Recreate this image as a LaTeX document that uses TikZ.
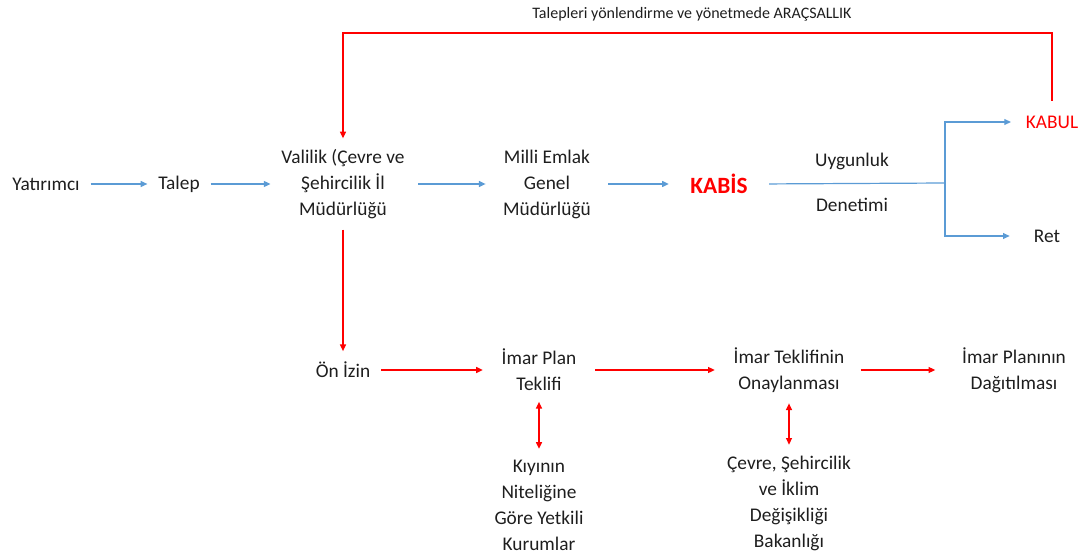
\documentclass[tikz,border=0pt]{standalone}
\usepackage{fontspec}
\setmainfont{Carlito}
\usetikzlibrary{arrows.meta}
\definecolor{okmavi}{RGB}{91,155,213}
\definecolor{okkirmizi}{RGB}{255,0,0}
\definecolor{yazi}{RGB}{30,30,30}
\tikzset{
  kutu/.style={align=center, inner sep=8pt, text=yazi, font=\fontsize{14.5}{19.5}\selectfont},
  mavi/.style={draw=okmavi, line width=0.9pt, -{Triangle[length=5pt,width=4.5pt]}},
  kirmizi/.style={draw=okkirmizi, line width=0.9pt, -{Triangle[length=5pt,width=4.5pt]}},
  ikiyonlu/.style={draw=okkirmizi, line width=0.9pt, {Triangle[length=5pt,width=4.5pt]}-{Triangle[length=5pt,width=4.5pt]}}
}
\begin{document}
\begin{tikzpicture}[x=0.75pt,y=-0.75pt]
                \useasboundingbox (0,0) rectangle (1086,556);
                \node[kutu] (yatirimci) at (46,184) {Yatırımcı};
                \node[kutu] (talep) at (179,184) {Talep};
                \node[kutu] (valilik) at (343,184) {Valilik (Çevre ve\\Şehircilik İl\\Müdürlüğü};
                \node[kutu] (emlak) at (547,184) {Milli Emlak\\Genel\\Müdürlüğü};
                \node[kutu, text=okkirmizi, font=\fontsize{17.5}{20}\selectfont\bfseries] (kabis) at (719,184) {KABİS};
                \node[kutu, text=okkirmizi, inner sep=11pt] (kabul) at (1052,122) {KABUL};
                \node[kutu] (ret) at (1047,236) {Ret};
                \node[kutu] (uygun) at (852,161) {Uygunluk};
                \node[kutu] (denetim) at (852,205) {Denetimi};
                \node[kutu, font=\fontsize{12}{14}\selectfont] (baslik) at (692,14) {Talepleri yönlendirme ve yönetmede ARAÇSALLIK};
                \coordinate (kol) at (945,183);
                \coordinate (ust) at (700,33);
                \node[kutu] (onizin) at (343,370) {Ön İzin};
                \node[kutu] (plan) at (539,370) {İmar Plan\\Teklifi};
                \node[kutu] (onay) at (789,370) {İmar Teklifinin\\Onaylanması};
                \node[kutu] (dagitim) at (1014,370) {İmar Planının\\Dağıtılması};
                \node[kutu] (kiyi) at (539,505) {Kıyının\\Niteliğine\\Göre Yetkili\\Kurumlar};
                \node[kutu] (bakanlik) at (789,503) {Çevre, Şehircilik\\ve İklim\\Değişikliği\\Bakanlığı};
                \draw[mavi] (yatirimci.east) -- (talep.west);
                \draw[mavi] (talep.east) -- (valilik.west);
                \draw[mavi, shorten <=2pt, shorten >=5pt] (valilik.east) -- (emlak.west);
                \draw[mavi, shorten <=5pt, shorten >=8pt] (emlak.east) -- (kabis.west);
                \draw[mavi, -, shorten <=8pt] (kabis.east) -- (kol);
                \draw[mavi] (kol) |- (kabul.west);
                \draw[mavi, shorten >=10pt] (kol) |- (ret.west);
                \draw[kirmizi] (kabul.north) |- (ust) -| (valilik.north);
                \draw[kirmizi] (valilik.south) -- (onizin.north);
                \draw[kirmizi, shorten >=6pt] (onizin.east) -- (plan.west);
                \draw[kirmizi, shorten <=6pt, shorten >=6pt] (plan.east) -- (onay.west);
                \draw[kirmizi, shorten <=4pt, shorten >=12pt] (onay.east) -- (dagitim.west);
                \draw[ikiyonlu] (plan.south) -- (kiyi.north);
                \draw[ikiyonlu] (onay.south) -- (bakanlik.north);
\end{tikzpicture}
\end{document}
